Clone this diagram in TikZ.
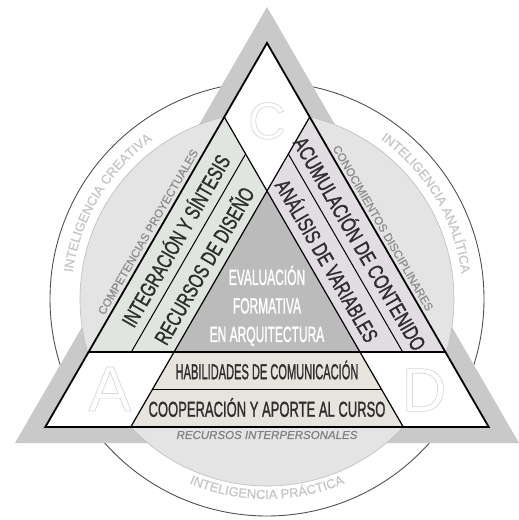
\documentclass[tikz,border=0pt]{standalone}
\usepackage{fontspec}
\setmainfont{Liberation Sans}
\newfontfamily\bandfont[FakeBold=1.6]{Liberation Sans}
\newfontfamily\ringfont[FakeBold=0.8]{Liberation Sans}
\usepackage{graphicx}
\usetikzlibrary{decorations.text}
\definecolor{frame}{HTML}{C9C9C9}
\definecolor{disk}{HTML}{E4E4E4}
\definecolor{diskline}{HTML}{BDBDBD}
\definecolor{ring}{HTML}{505050}
\definecolor{design}{HTML}{E0E5E0}
\definecolor{knowledge}{HTML}{E2DDE3}
\definecolor{core}{HTML}{BBBBBB}
\definecolor{social}{HTML}{E7E3DD}
\definecolor{ink}{HTML}{2E2E2E}
\definecolor{soft}{HTML}{8E8E8E}
\definecolor{faint}{HTML}{C6C6C6}
\definecolor{ghost}{HTML}{D8D8D8}

\newcommand{\squeeze}[2]{\scalebox{#1}[1]{#2}}
\newcommand{\hollow}[1]{{\special{pdf:literal direct 1 Tr 0.7 w}#1\special{pdf:literal direct 0 Tr}}}

\begin{document}
\begin{tikzpicture}[x=1bp,y=1bp,
  band/.style={font=\bandfont\fontsize{21.5bp}{22bp}\selectfont, text=ink, inner sep=0pt},
  tag/.style={font=\ringfont\fontsize{11.5bp}{13bp}\selectfont, text=soft, inner sep=0pt},
  letter/.style={text=ghost, inner sep=0pt},
  arc label/.style={decorate, decoration={text along path, text align=center, text color=faint}}]

  \useasboundingbox (-267,-221) rectangle (252,299);

  % Outer ring and grey frame
  \draw[ring, line width=0.9bp] (0,0) circle (217);
  \fill[frame] (0,292) -- (-252,-144) -- (252,-144) -- cycle;
  \filldraw[fill=disk, draw=diskline, line width=0.6bp] (0,0) circle (187);

  % Intelligences on the ring
  \path[arc label, decoration={text={|\ringfont\fontsize{13bp}{14bp}\selectfont|INTELIGENCIA CREATIVA}}]
    (190:196) arc[start angle=190, end angle=108, radius=196];
  \path[arc label, decoration={text={|\ringfont\fontsize{13bp}{14bp}\selectfont|INTELIGENCIA ANALÍTICA}}]
    (72:196) arc[start angle=72, end angle=-10, radius=196];
  \path[arc label, decoration={text={|\ringfont\fontsize{13bp}{14bp}\selectfont|INTELIGENCIA PRÁCTICA}}]
    (225:200) arc[start angle=225, end angle=315, radius=200];

  % Key points of the inner triangle
  \coordinate (top) at (0,256);
  \coordinate (left) at (-221.7,-128);
  \coordinate (right) at (221.7,-128);
  \coordinate (pL) at (-42.72,182);
  \coordinate (pR) at (42.72,182);
  \coordinate (cross) at (0,108);
  \coordinate (hL) at (-178.4,-53);
  \coordinate (hR) at (178.4,-53);
  \coordinate (cL) at (-92.96,-53);
  \coordinate (cR) at (92.96,-53);
  \coordinate (mL) at (-114.32,-90);
  \coordinate (mR) at (114.32,-90);
  \coordinate (bL) at (-136.26,-128);
  \coordinate (bR) at (136.26,-128);
  \coordinate (dLt) at (-21.36,145);
  \coordinate (dLb) at (-135.7,-53);
  \coordinate (dRt) at (21.36,145);
  \coordinate (dRb) at (135.7,-53);

  % Regions
  \fill[white] (top) -- (left) -- (right) -- cycle;
  \fill[design] (pL) -- (cross) -- (cL) -- (hL) -- cycle;
  \fill[knowledge] (pR) -- (cross) -- (cR) -- (hR) -- cycle;
  \fill[core] (cross) -- (cR) -- (cL) -- cycle;
  \fill[social] (cL) -- (cR) -- (bR) -- (bL) -- cycle;

  % Dividing lines
  \draw[line width=1.2bp] (pL) -- (bR);
  \draw[line width=1.2bp] (pR) -- (bL);
  \draw[line width=1.2bp] (hL) -- (hR);
  \draw[line width=1bp] (mL) -- (mR);
  \draw[line width=1bp] (dLt) -- (dLb);
  \draw[line width=1bp] (dRt) -- (dRb);
  \draw[line width=1.8bp, line join=miter] (top) -- (left) -- (right) -- cycle;

  % Corner letters
  \node[letter, font=\fontsize{52bp}{52bp}\selectfont] (C) at (0,178) {\hollow{C}};
  \node[letter, font=\fontsize{64bp}{64bp}\selectfont] (A) at (-157,-90) {\hollow{A}};
  \node[letter, font=\fontsize{62bp}{62bp}\selectfont] (D) at (157,-91) {\hollow{D}};

  % Band texts
  \node[band, rotate=60] (integ) at (-92.4,59) {\squeeze{0.71}{INTEGRACIÓN Y SÍNTESIS}};
  \node[band, rotate=60] (diseno) at (-64.1,34) {\squeeze{0.72}{RECURSOS DE DISEÑO}};
  \node[band, rotate=-60] (acum) at (94.1,56) {\squeeze{0.735}{ACUMULACIÓN DE CONTENIDO}};
  \node[band, rotate=-60] (analisis) at (61.2,39) {\squeeze{0.715}{ANÁLISIS DE VARIABLES}};
  \node[band, text=white, align=center, font=\bandfont\fontsize{22bp}{28.5bp}\selectfont] (core)
    at (0,-7) {\squeeze{0.545}{EVALUACIÓN}\\\squeeze{0.545}{FORMATIVA}\\\squeeze{0.545}{EN ARQUITECTURA}};
  \node[band] (habil) at (0,-71) {\squeeze{0.515}{HABILIDADES DE COMUNICACIÓN}};
  \node[band] (coop) at (0,-108.5) {\squeeze{0.605}{COOPERACIÓN Y APORTE AL CURSO}};

  % Small labels
  \node[tag, rotate=60] (compet) at (-119,67) {COMPETENCIAS PROYECTUALES};
  \node[tag, rotate=-60] (conoc) at (116,71) {CONOCIMIENTOS DISCIPLINARES};
  \node[tag, text=gray, font=\ringfont\itshape\fontsize{11.5bp}{13bp}\selectfont] (interp) at (0,-136) {RECURSOS INTERPERSONALES};
\end{tikzpicture}
\end{document}
